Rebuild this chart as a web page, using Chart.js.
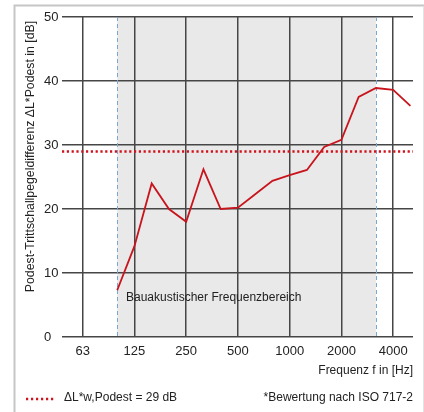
<!DOCTYPE html>
<html>
<head>
<meta charset="utf-8">
<script src="https://cdn.jsdelivr.net/npm/chart.js@4.4.1/dist/chart.umd.min.js"></script>
<style>
  html, body { margin: 0; padding: 0; background: #fff; }
  canvas { display: block; }
</style>
</head>
<body>
<canvas id="chart" width="424" height="412"></canvas>
<script>
// third-octave bands (index on the x axis = position in this list)
const bands = ["63", "80", "100", "125", "160", "200", "250", "315", "400", "500",
  "630", "800", "1000", "1250", "1600", "2000", "2500", "3150", "4000", "5000"];
const tickBands = ["63", "125", "250", "500", "1000", "2000", "4000"];

// measured curve (100 Hz .. 5000 Hz)
const measuredBands = ["100", "125", "160", "200", "250", "315", "400", "500", "630",
  "800", "1000", "1250", "1600", "2000", "2500", "3150", "4000", "5000"];
const measuredValues = [7.3, 14.2, 24.0, 20.0, 18.0, 26.2, 20.0, 20.2, 22.3,
  24.4, 25.3, 26.1, 29.7, 30.8, 37.5, 38.9, 38.6, 36.1];

// single number rating
const ratingValue = 29;
// building acoustics range
const rangeBands = ["100", "3150"];
const yTicks = [0, 10, 20, 30, 40, 50];

const xMin = -1.2;
const xMax = 19.15;
const FONT = "'Liberation Sans', Arial, Helvetica, sans-serif";
const TEXT = "#222";
const GRID = "#464646";

const measuredPoints = measuredBands.map((b, i) => ({ x: bands.indexOf(b), y: measuredValues[i] }));
const ratingPoints = [{ x: xMin, y: ratingValue }, { x: xMax, y: ratingValue }];

// gray band + dashed limits, frame, y title, annotations, legend
const decorations = {
  id: "decorations",
  beforeDraw(chart) {
    const { ctx, chartArea: a, scales } = chart;
    const x0 = scales.x.getPixelForValue(bands.indexOf(rangeBands[0]));
    const x1 = scales.x.getPixelForValue(bands.indexOf(rangeBands[1]));
    ctx.save();
    ctx.fillStyle = "#e9e9e9";
    ctx.fillRect(x0, a.top, x1 - x0, a.bottom - a.top);
    ctx.restore();
  },
  beforeDatasetsDraw(chart) {
    const { ctx, chartArea: a, scales } = chart;
    ctx.save();
    ctx.strokeStyle = "#7ba7d4";
    ctx.lineWidth = 1;
    ctx.setLineDash([4, 3]);
    rangeBands.forEach((b) => {
      const x = Math.round(scales.x.getPixelForValue(bands.indexOf(b))) + 0.5;
      ctx.beginPath();
      ctx.moveTo(x, a.top);
      ctx.lineTo(x, a.bottom);
      ctx.stroke();
    });
    ctx.restore();
  },
  afterDraw(chart) {
    const { ctx } = chart;
    ctx.save();

    // outer frame
    ctx.strokeStyle = "#c6c6c6";
    ctx.lineWidth = 2;
    ctx.beginPath();
    ctx.moveTo(14.5, 412);
    ctx.lineTo(14.5, 5.5);
    ctx.lineTo(424, 5.5);
    ctx.stroke();
    ctx.strokeStyle = "#e4e4e4";
    ctx.lineWidth = 1;
    ctx.beginPath();
    ctx.moveTo(423.5, 6);
    ctx.lineTo(423.5, 412);
    ctx.stroke();

    ctx.fillStyle = TEXT;

    // y title
    ctx.save();
    ctx.translate(31, 156.5);
    ctx.rotate(-Math.PI / 2);
    ctx.font = "12.3px " + FONT;
    ctx.textAlign = "center";
    ctx.textBaseline = "middle";
    ctx.fillText("Podest-Trittschallpegeldifferenz \u0394L*Podest in [dB]", 0, 0);
    ctx.restore();

    // range label
    ctx.font = "12px " + FONT;
    ctx.textAlign = "left";
    ctx.textBaseline = "middle";
    ctx.fillText("Bauakustischer Frequenzbereich", 126, 298);

    // x title
    ctx.textAlign = "right";
    ctx.fillText("Frequenz f in [Hz]", 413, 371);

    // legend
    ctx.fillText("*Bewertung nach ISO 717-2", 413, 398);
    ctx.textAlign = "left";
    ctx.fillText("\u0394L*w,Podest = 29 dB", 64, 398);
    ctx.strokeStyle = "#d0131b";
    ctx.lineWidth = 2.5;
    ctx.setLineDash([2.2, 2.8]);
    ctx.beginPath();
    ctx.moveTo(26, 399);
    ctx.lineTo(56, 399);
    ctx.stroke();

    ctx.restore();
  },
};

new Chart(document.getElementById("chart"), {
  type: "line",
  data: {
    datasets: [
      {
        label: "Measured",
        data: measuredPoints,
        borderColor: "#c8141c",
        borderWidth: 1.8,
        pointRadius: 0,
        tension: 0,
        fill: false,
      },
      {
        label: "Rating",
        data: ratingPoints,
        borderColor: "#d0131b",
        borderWidth: 2.5,
        borderDash: [2.2, 2.6],
        pointRadius: 0,
        fill: false,
      },
    ],
  },
  options: {
    responsive: false,
    animation: false,
    layout: { padding: { left: 44, top: 17, right: 11, bottom: 0 } },
    plugins: {
      legend: { display: false },
      tooltip: { enabled: false },
    },
    scales: {
      x: {
        type: "linear",
        min: xMin,
        max: xMax,
        afterBuildTicks(scale) {
          scale.ticks = tickBands.map((b) => ({ value: bands.indexOf(b) }));
        },
        afterFit(scale) {
          scale.height = 75;
        },
        ticks: {
          autoSkip: false,
          maxRotation: 0,
          padding: 7,
          color: TEXT,
          font: { family: FONT, size: 13 },
          callback: (v) => bands[v],
        },
        grid: { color: GRID, lineWidth: 1.5, drawTicks: false },
        border: { display: false },
      },
      y: {
        min: 0,
        max: 50,
        afterBuildTicks(scale) {
          scale.ticks = yTicks.map((v) => ({ value: v }));
        },
        afterFit(scale) {
          scale.width = 18;
        },
        ticks: {
          padding: 4,
          crossAlign: "far",
          color: TEXT,
          font: { family: FONT, size: 13 },
        },
        grid: { color: GRID, lineWidth: 1.5, drawTicks: false },
        border: { display: false },
      },
    },
  },
  plugins: [decorations],
});
</script>
</body>
</html>
